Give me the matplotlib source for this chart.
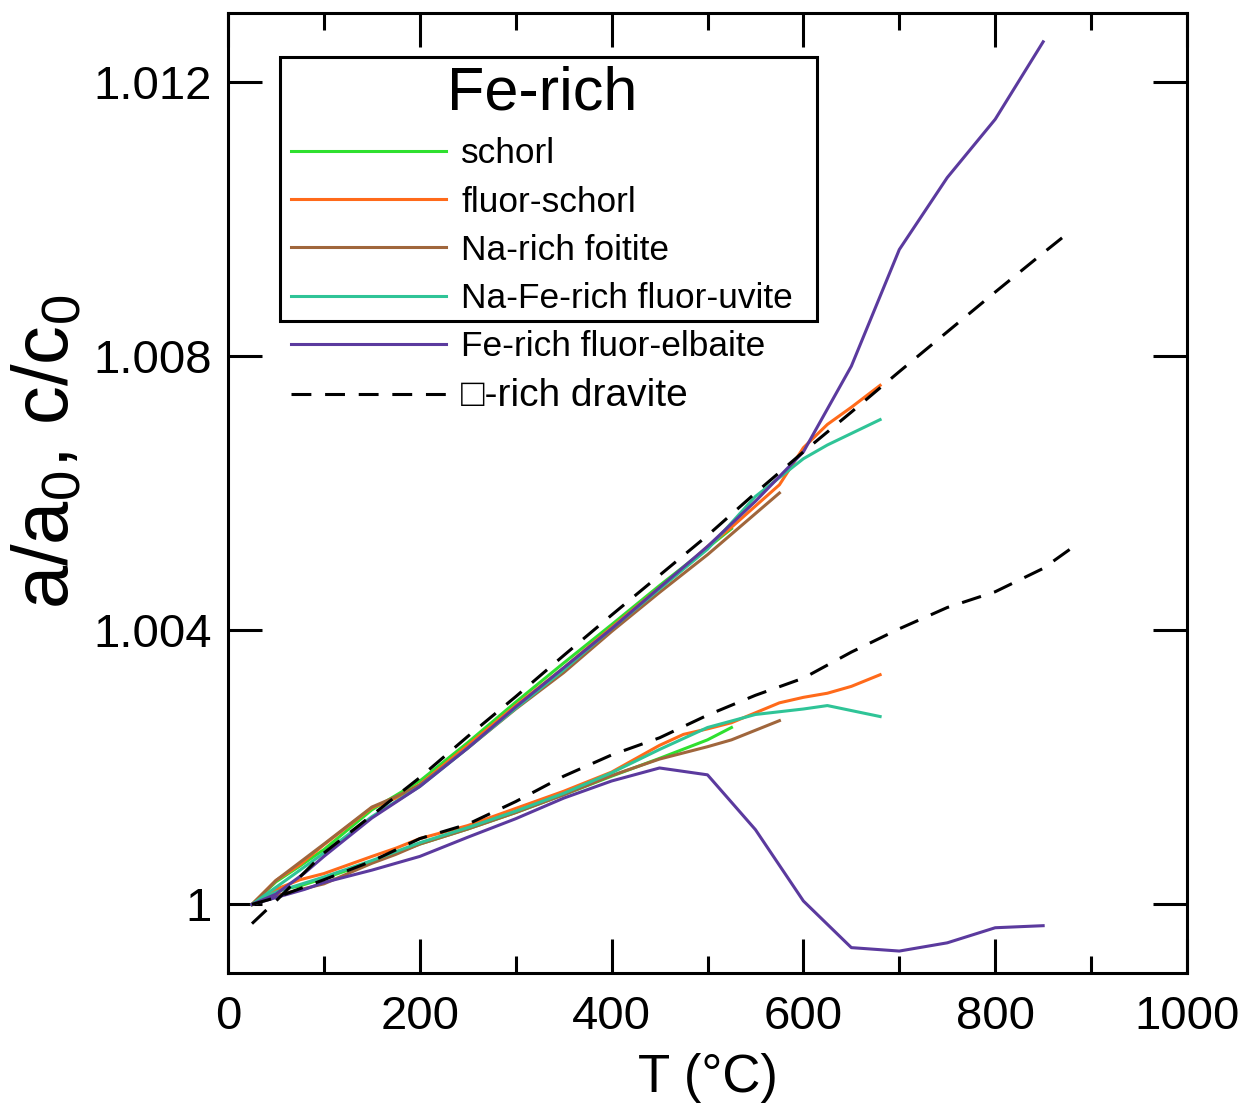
import matplotlib
matplotlib.use("Agg")
import matplotlib.pyplot as plt
from matplotlib.patches import Rectangle

plt.rcParams['font.family'] = ['Liberation Sans', 'DejaVu Sans']
plt.rcParams['mathtext.default'] = 'regular'

# ---------------- data ----------------
T_sch = [25, 50, 75, 100, 150, 200, 250, 300, 350, 400, 450, 500, 525]
a_sch = [1.0000, 1.00020, 1.00027, 1.00038, 1.00062, 1.00088, 1.00110, 1.00134, 1.00160, 1.00187, 1.00213, 1.00240, 1.00258]
c_sch = [1.0000, 1.00033, 1.00056, 1.00080, 1.00138, 1.00180, 1.00236, 1.00295, 1.00352, 1.00408, 1.00465, 1.00520, 1.00548]

T_fs = [25, 50, 75, 100, 150, 175, 200, 250, 300, 350, 400, 450, 475, 500, 525, 575, 600, 625, 650, 680]
a_fs = [1.0000, 1.00022, 1.00036, 1.00045, 1.00070, 1.00082, 1.00096, 1.00115, 1.00140, 1.00165, 1.00193, 1.00232, 1.00248, 1.00256, 1.00265, 1.00294, 1.00302, 1.00308, 1.00318, 1.00335]
c_fs = [1.0000, 1.00035, 1.00058, 1.00087, 1.00141, 1.00155, 1.00175, 1.00232, 1.00290, 1.00345, 1.00404, 1.00462, 1.00490, 1.00522, 1.00550, 1.00612, 1.00666, 1.00700, 1.00725, 1.00757]

T_fo = [25, 50, 100, 150, 175, 200, 250, 300, 350, 400, 450, 500, 525, 575]
a_fo = [1.0000, 1.00013, 1.00030, 1.00060, 1.00073, 1.00088, 1.00110, 1.00134, 1.00160, 1.00188, 1.00212, 1.00230, 1.00240, 1.00268]
c_fo = [1.0000, 1.00035, 1.00088, 1.00142, 1.00157, 1.00174, 1.00228, 1.00285, 1.00338, 1.00398, 1.00455, 1.00510, 1.00540, 1.00600]

T_uv = [25, 50, 100, 150, 200, 250, 300, 350, 400, 450, 500, 550, 600, 625, 680]
a_uv = [1.0000, 1.00018, 1.00040, 1.00064, 1.00090, 1.00112, 1.00136, 1.00162, 1.00192, 1.00226, 1.00258, 1.00277, 1.00285, 1.00290, 1.00274]
c_uv = [1.0000, 1.00025, 1.00075, 1.00128, 1.00172, 1.00228, 1.00286, 1.00342, 1.00402, 1.00460, 1.00518, 1.00595, 1.00650, 1.00670, 1.00707]

T_el = [25, 50, 80, 100, 150, 200, 250, 300, 350, 400, 450, 500, 550, 600, 650, 700, 750, 800, 850]
a_el = [1.0000, 1.00010, 1.00022, 1.00032, 1.00050, 1.00070, 1.00098, 1.00125, 1.00155, 1.00180, 1.00199, 1.00189, 1.00109, 1.00005, 0.99937, 0.99932, 0.99944, 0.99966, 0.99969]
c_el = [1.0000, 1.00015, 1.00046, 1.00070, 1.00126, 1.00172, 1.00228, 1.00288, 1.00345, 1.00402, 1.00462, 1.00522, 1.00588, 1.00660, 1.00785, 1.00955, 1.01060, 1.01145, 1.01258]

T_dr_a = [25, 50, 100, 150, 200, 250, 300, 350, 400, 450, 500, 550, 600, 650, 700, 750, 800, 850, 880]
a_dr = [1.0000, 1.00010, 1.00036, 1.00063, 1.00096, 1.00117, 1.00150, 1.00187, 1.00218, 1.00243, 1.00276, 1.00305, 1.00330, 1.00368, 1.00402, 1.00433, 1.00456, 1.00490, 1.00520]
T_dr_c = [25, 50, 100, 150, 200, 250, 300, 350, 400, 450, 500, 550, 600, 650, 700, 750, 800, 850, 875]
c_dr = [0.99972, 1.00005, 1.00075, 1.00130, 1.00185, 1.00245, 1.00303, 1.00363, 1.00422, 1.00480, 1.00538, 1.00600, 1.00660, 1.00718, 1.00777, 1.00835, 1.00893, 1.00950, 1.00978]

names = ["schorl", "fluor-schorl", "Na-rich foitite", "Na-Fe-rich fluor-uvite",
         "Fe-rich fluor-elbaite", "\u25a1-rich dravite"]
colors = ["#2fe02f", "#ff6a1a", "#a0663c", "#2fc497", "#5b3a9e", "black"]

x_ticks = [0, 200, 400, 600, 800, 1000]
x_minor = [100, 300, 500, 700, 900]
y_ticks = [1.000, 1.004, 1.008, 1.012]
y_ticklabels = ["1", "1.004", "1.008", "1.012"]

# ---------------- figure ----------------
fig = plt.figure(figsize=(12.45, 11.06), dpi=100)
ax = fig.add_axes([228/1245, 133/1106, 959/1245, 960/1106])

lw = 2.2
series = [(T_sch, a_sch, c_sch), (T_fs, a_fs, c_fs), (T_fo, a_fo, c_fo),
          (T_uv, a_uv, c_uv), (T_el, a_el, c_el)]
handles = []
for (T, a, c), col, nm in zip(series, colors[:5], names[:5]):
    ax.plot(T, a, color=col, lw=lw)
    h, = ax.plot(T, c, color=col, lw=lw, label=nm)
    handles.append(h)

ax.plot(T_dr_a, a_dr, color='black', lw=lw, dashes=(6.5, 4.5))
h, = ax.plot(T_dr_c, c_dr, color='black', lw=lw, dashes=(6.5, 4.5), label=names[5])
handles.append(h)

ax.set_xlim(0, 1000)
ax.set_ylim(0.999, 1.013)
ax.set_xticks(x_ticks)
ax.set_xticks(x_minor, minor=True)
ax.set_yticks(y_ticks)
ax.set_yticklabels(y_ticklabels)

for s in ax.spines.values():
    s.set_linewidth(2.2)
ax.tick_params(which='major', direction='in', length=24.5, width=2.2,
               top=True, right=True, labelsize=34)
ax.tick_params(which='minor', direction='in', length=12, width=2.2,
               top=True, right=True)
ax.tick_params(axis='x', which='major', pad=16)
ax.tick_params(axis='y', which='major', pad=11.5)

ax.set_xlabel("T (\u00b0C)", fontsize=38, labelpad=10)
ax.set_ylabel("a/a$_0$, c/c$_0$", fontsize=56)
ax.yaxis.set_label_coords(-0.15, 0.543)

leg = ax.legend(handles=handles, loc='upper left', bbox_to_anchor=(0.058, 0.953),
                frameon=False, fontsize=25.4, title="Fe-rich", title_fontsize=44,
                handlelength=4.4, handletextpad=0.43, labelspacing=0.43,
                borderpad=0.2, borderaxespad=0)
leg.get_texts()[5].set_fontsize(28)

ax.add_patch(Rectangle((0.0542, 0.6792), 0.560, 0.275, transform=ax.transAxes,
                       fill=False, lw=2.2, edgecolor='black', zorder=5))

fig.savefig("out.png", dpi=100)
